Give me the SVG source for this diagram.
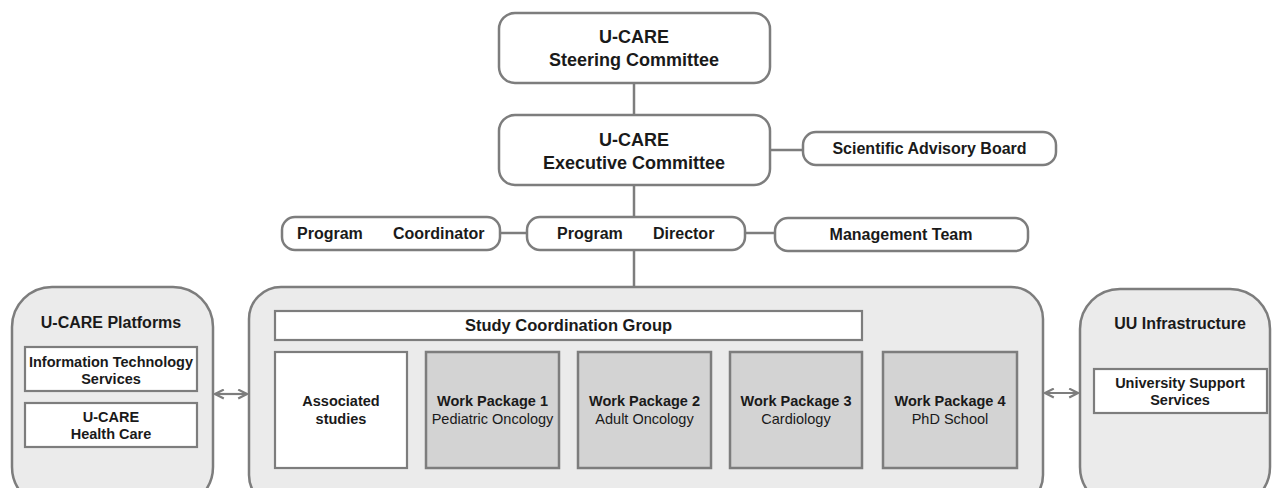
<svg xmlns="http://www.w3.org/2000/svg" width="1272" height="488" viewBox="0 0 1272 488">
<defs>
<style>
.node{fill:#ffffff;stroke:#7d7d7d;stroke-width:2.5}
.cont{fill:#ebebeb;stroke:#7d7d7d;stroke-width:2.5}
.wp{fill:#d3d3d3;stroke:#7d7d7d;stroke-width:2.5}
.box{fill:#ffffff;stroke:#7d7d7d;stroke-width:2.2}
.conn{stroke:#7d7d7d;stroke-width:2.5;fill:none}
.arr{stroke:#7d7d7d;stroke-width:2.2;fill:none}
text{font-family:"Liberation Sans",Arial,sans-serif;fill:#1a1a1a;text-anchor:middle}
.b18{font-size:18px;font-weight:bold}
.b16{font-size:16px;font-weight:bold}
.b165{font-size:16.5px;font-weight:bold}
.b14{font-size:14.5px;font-weight:bold}
.r14{font-size:14.5px}
</style>
<marker id="ah" viewBox="0 0 10 10" refX="9" refY="5" markerWidth="11" markerHeight="11" markerUnits="userSpaceOnUse" orient="auto-start-reverse">
<path d="M1,1 L9,5 L1,9" fill="none" stroke="#7d7d7d" stroke-width="2"/>
</marker>
</defs>
<rect width="1272" height="488" fill="#ffffff"/>

<g id="connectors">
<line class="conn" x1="634" y1="83" x2="634" y2="115"/>
<line class="conn" x1="770" y1="150" x2="803" y2="150"/>
<line class="conn" x1="634" y1="185" x2="634" y2="217"/>
<line class="conn" x1="500" y1="233" x2="527" y2="233"/>
<line class="conn" x1="745" y1="233" x2="775" y2="233"/>
<line class="conn" x1="634" y1="250" x2="634" y2="287"/>
<line class="arr" x1="215" y1="394" x2="247" y2="394" marker-start="url(#ah)" marker-end="url(#ah)"/>
<line class="arr" x1="1045" y1="393" x2="1078" y2="393" marker-start="url(#ah)" marker-end="url(#ah)"/>
</g>

<g id="steering">
<rect class="node" x="499" y="13" width="271" height="70" rx="16"/>
<text class="b18" x="634" y="43">U-CARE</text>
<text class="b18" x="634" y="66">Steering Committee</text>
</g>

<g id="executive">
<rect class="node" x="499" y="115" width="271" height="70" rx="16"/>
<text class="b18" x="634" y="146">U-CARE</text>
<text class="b18" x="634" y="169">Executive Committee</text>
</g>

<g id="sab">
<rect class="node" x="803" y="132" width="253" height="33" rx="13"/>
<text class="b16" x="929.5" y="154">Scientific Advisory Board</text>
</g>

<g id="coordinator">
<rect class="node" x="282" y="217" width="218" height="33" rx="13"/>
<text class="b16" style="text-anchor:start"><tspan x="297" y="239">Program</tspan><tspan x="393" y="239">Coordinator</tspan></text>
</g>

<g id="director">
<rect class="node" x="527" y="217" width="218" height="33" rx="13"/>
<text class="b16" style="text-anchor:start"><tspan x="557" y="239">Program</tspan><tspan x="653" y="239">Director</tspan></text>
</g>

<g id="management">
<rect class="node" x="775" y="218" width="253" height="33" rx="13"/>
<text class="b16" x="901" y="240">Management Team</text>
</g>

<g id="platforms">
<rect class="cont" x="12" y="287" width="201" height="220" rx="40"/>
<text class="b16" x="111" y="328">U-CARE  Platforms</text>
<rect class="box" x="25" y="347" width="172" height="44"/>
<text class="b14" x="111" y="367">Information Technology</text>
<text class="b14" x="111" y="384">Services</text>
<rect class="box" x="25" y="403" width="172" height="44"/>
<text class="b14" x="111" y="422">U-CARE</text>
<text class="b14" x="111" y="439">Health Care</text>
</g>

<g id="studies">
<rect class="cont" x="249" y="287" width="794" height="220" rx="32"/>
<rect class="box" x="275" y="311" width="587" height="29"/>
<text class="b165" x="568.5" y="331">Study Coordination Group</text>
</g>

<g id="associated">
<rect class="box" x="275" y="352" width="132" height="116"/>
<text class="b14" x="341" y="406">Associated</text>
<text class="b14" x="341" y="424">studies</text>
</g>

<g id="wp1">
<rect class="wp" x="426" y="352" width="133" height="116"/>
<text class="b14" x="492.5" y="406">Work Package 1</text>
<text class="r14" x="492.5" y="424">Pediatric Oncology</text>
</g>

<g id="wp2">
<rect class="wp" x="578" y="352" width="133" height="116"/>
<text class="b14" x="644.5" y="406">Work Package 2</text>
<text class="r14" x="644.5" y="424">Adult Oncology</text>
</g>

<g id="wp3">
<rect class="wp" x="730" y="352" width="132" height="116"/>
<text class="b14" x="796" y="406">Work Package 3</text>
<text class="r14" x="796" y="424">Cardiology</text>
</g>

<g id="wp4">
<rect class="wp" x="883" y="352" width="134" height="116"/>
<text class="b14" x="950" y="406">Work Package 4</text>
<text class="r14" x="950" y="424">PhD School</text>
</g>

<g id="uu">
<rect class="cont" x="1080" y="289" width="190" height="218" rx="40"/>
<text class="b16" x="1180" y="329">UU  Infrastructure</text>
<rect class="box" x="1094" y="369" width="173" height="44"/>
<text class="b14" x="1180" y="388">University Support</text>
<text class="b14" x="1180" y="405">Services</text>
</g>
</svg>
